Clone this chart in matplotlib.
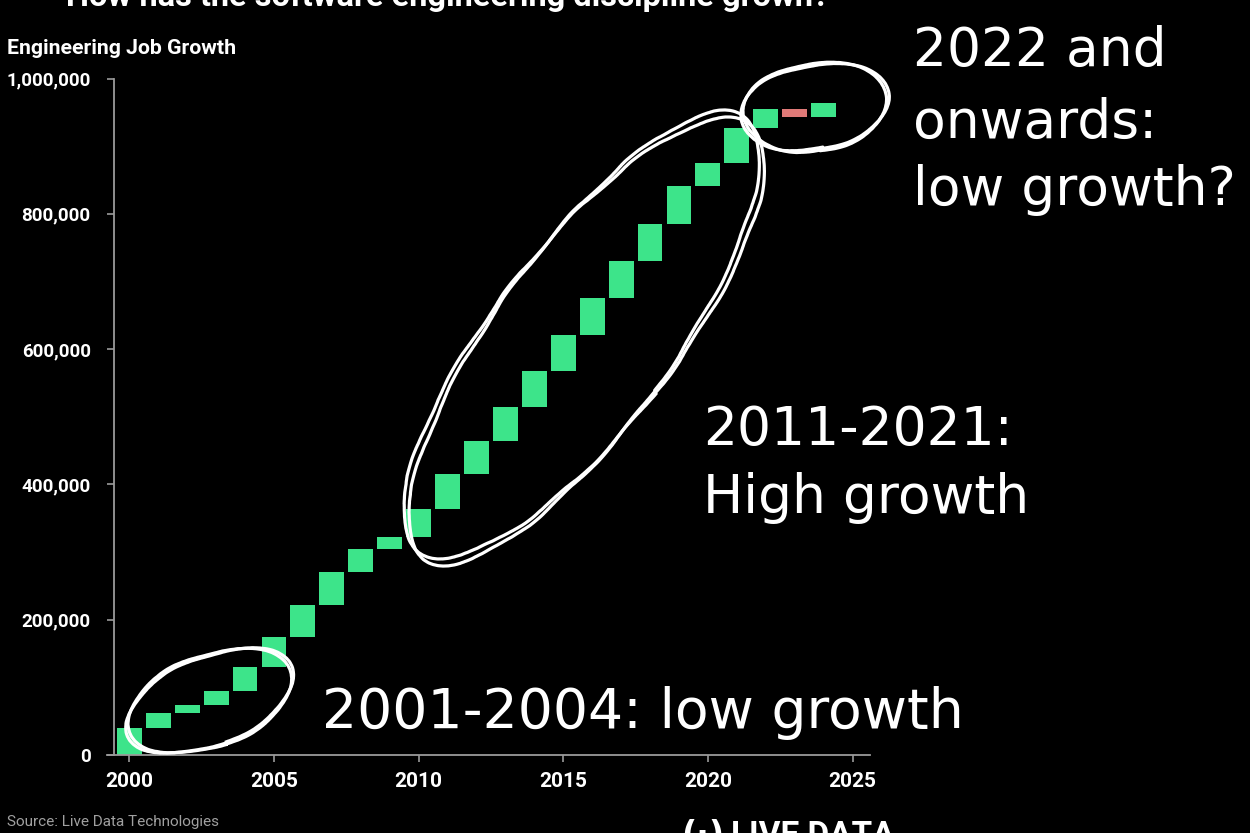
import numpy as np
import matplotlib
matplotlib.use("Agg")
import matplotlib.pyplot as plt
from matplotlib.patches import Ellipse
from matplotlib import font_manager

# ---------------- data ----------------
years = [2000, 2001, 2002, 2003, 2004, 2005, 2006, 2007, 2008, 2009, 2010, 2011,
         2012, 2013, 2014, 2015, 2016, 2017, 2018, 2019, 2020, 2021, 2022, 2023, 2024]
changes = [40000, 21500, 12500, 21000, 35500, 43500, 48000, 49000, 33000, 18000,
           41500, 52000, 48000, 51000, 52500, 54000, 55000, 53500, 55500, 55500,
           34500, 52500, 27500, -12000, 21500]
title = "How has the software engineering discipline grown?"
y_label = "Engineering Job Growth"
y_ticks = [0, 200000, 400000, 600000, 800000, 1000000]
x_ticks = [2000, 2005, 2010, 2015, 2020, 2025]
source_text = "Source: Live Data Technologies"
logo_text = "LIVE DATA"
note_low_early = ["2001-2004: low growth"]
note_high = ["2011-2021:", "High growth"]
note_late = ["2022 and", "onwards:", "low growth?"]

# ---------------- style ----------------
GREEN = "#3de48a"
RED = "#e07a78"
GRAY = "#9a9a9a"
W, H = 1250, 833

avail = {f.name for f in font_manager.fontManager.ttflist}
narrow = "Liberation Sans Narrow" if "Liberation Sans Narrow" in avail else "Roboto"
hand = "DejaVu Sans"

fig = plt.figure(figsize=(12.5, 8.33), dpi=100, facecolor="black")

px_per_year = 28.93
x0_px = 129.3
def xdata(px):
    return 2000 + (px - x0_px) / px_per_year

ax = fig.add_axes([107 / W, 78 / H, (870 - 107) / W, 676.5 / H])
ax.set_facecolor("black")
ax.set_xlim(xdata(107), xdata(870))
ax.set_ylim(0, 1000000)

ch = np.array(changes, dtype=float)
levels = np.cumsum(ch)
bottoms = levels - ch
colors = [GREEN if c >= 0 else RED for c in ch]
ax.bar(years, ch, bottom=bottoms, width=0.86, color=colors, linewidth=0, zorder=2)

for s in ["top", "right"]:
    ax.spines[s].set_visible(False)
ax.spines["left"].set_position(("data", xdata(114.3)))
ax.spines["left"].set_bounds(0, 1000000)
ax.spines["left"].set_color(GRAY)
ax.spines["bottom"].set_color(GRAY)
ax.spines["left"].set_linewidth(1.3)
ax.spines["bottom"].set_linewidth(1.3)

ax.set_yticks(y_ticks)
ax.set_yticklabels([f"{v:,}" for v in y_ticks])
ax.set_xticks(x_ticks)
ax.set_xticklabels([str(v) for v in x_ticks])
ax.tick_params(axis="y", colors=GRAY, length=5, width=1.2, pad=12,
               labelcolor="white", labelsize=13.5)
ax.tick_params(axis="x", colors=GRAY, length=5, width=1.2, pad=7,
               labelcolor="white", labelsize=15)
for lab in ax.get_yticklabels() + ax.get_xticklabels():
    lab.set_family(narrow)
    lab.set_fontweight("bold")

def fx(px):
    return px / W
def fy(py):
    return 1 - py / H

fig.text(fx(7), fy(48), y_label, color="white", fontsize=15.3, fontweight="bold",
         family=narrow, ha="left", va="center")
fig.text(fx(448), fy(6), title, color="white", fontsize=23.4, fontweight="bold",
         family="Roboto", ha="center", va="baseline")
fig.text(fx(7), fy(826), source_text, color="#a0a0a0", fontsize=11,
         family=narrow, ha="left", va="baseline")
fig.text(fx(731), fy(845), logo_text, color="white", fontsize=24, fontweight="bold",
         family="Roboto", ha="left", va="baseline")
fig.text(fx(703), fy(845), "(·)", color="white", fontsize=24, fontweight="bold",
         family="DejaVu Sans", ha="center", va="baseline")

# ---------------- hand-drawn overlay ----------------
ov = fig.add_axes([0, 0, 1, 1], facecolor="none", zorder=5)
ov.set_xlim(0, W)
ov.set_ylim(0, H)
ov.axis("off")

def sketch_ellipse(cx, cy, w, h, ang):
    for dw, dh, da in [(0, 0, 0), (6, -4, 2)]:
        e = Ellipse((cx, H - cy), w + dw, h + dh, angle=ang + da, fill=False,
                    edgecolor="white", linewidth=2.3)
        e.set_sketch_params(scale=1.2, length=120, randomness=3)
        ov.add_patch(e)

sketch_ellipse(210, 701, 172, 92, 20)
sketch_ellipse(584, 338, 540, 180, 52)
sketch_ellipse(815, 107, 146, 88, 8)

def lines(px, baselines, texts, size):
    for b, t in zip(baselines, texts):
        ov.text(px, H - b, t, color="white", fontsize=size, family=hand,
                ha="left", va="baseline")

lines(322, [728], note_low_early, 39.8)
lines(703, [445, 513], note_high, 38.5)
lines(913, [66, 138, 205], note_late, 38.5)

fig.savefig("out.png", dpi=100, facecolor="black")
